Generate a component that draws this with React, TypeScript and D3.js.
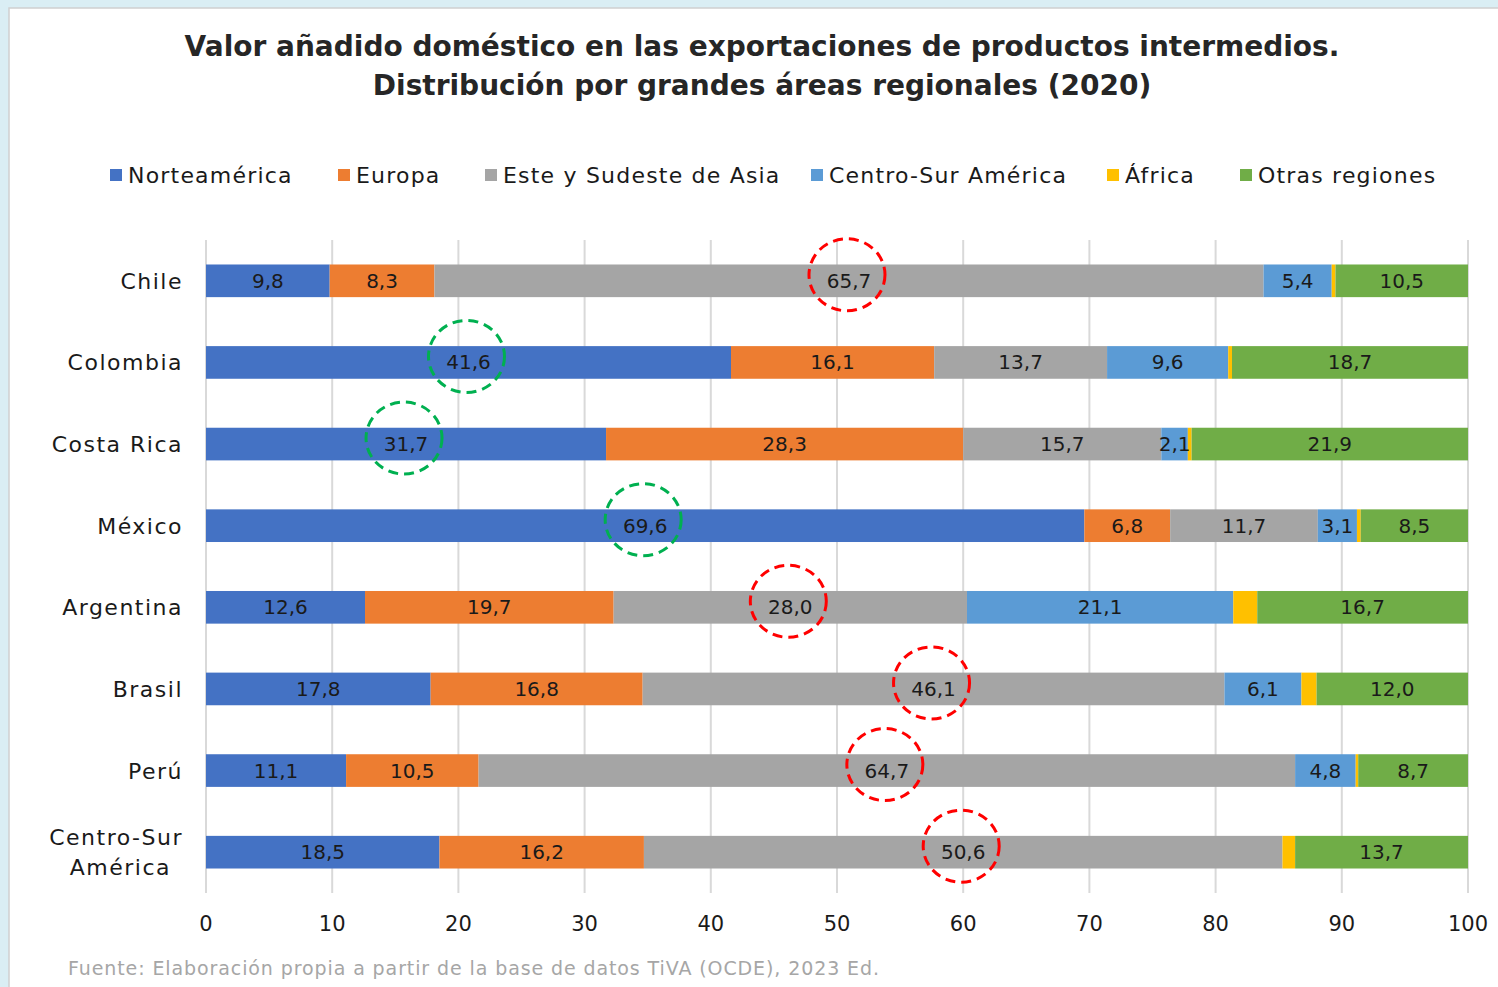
import React from "react";
import * as d3 from "d3";

const categories = ["Chile", "Colombia", "Costa Rica", "México", "Argentina", "Brasil", "Perú", "Centro-Sur América"];
const seriesNames = ["Norteamérica", "Europa", "Este y Sudeste de Asia", "Centro-Sur América", "África", "Otras regiones"];
const colors = ["#4472C4", "#ED7D31", "#A5A5A5", "#5B9BD5", "#FFC000", "#70AD47"];

const norteamerica = [9.8, 41.6, 31.7, 69.6, 12.6, 17.8, 11.1, 18.5];
const europa = [8.3, 16.1, 28.3, 6.8, 19.7, 16.8, 10.5, 16.2];
const asia = [65.7, 13.7, 15.7, 11.7, 28.0, 46.1, 64.7, 50.6];
const centroSur = [5.4, 9.6, 2.1, 3.1, 21.1, 6.1, 4.8, 0];
const africa = [0.3, 0.3, 0.3, 0.3, 1.9, 1.2, 0.2, 1.0];
const otras = [10.5, 18.7, 21.9, 8.5, 16.7, 12.0, 8.7, 13.7];
const xTicks = [0, 10, 20, 30, 40, 50, 60, 70, 80, 90, 100];

// dashed circles drawn on the chart: [category index, series index, colour]
const highlights: [number, number, string][] = [
  [0, 2, "#FF0000"],
  [1, 0, "#00B050"],
  [2, 0, "#00B050"],
  [3, 0, "#00B050"],
  [4, 2, "#FF0000"],
  [5, 2, "#FF0000"],
  [6, 2, "#FF0000"],
  [7, 2, "#FF0000"],
];

const W = 1498;
const H = 987;
const font = "'DejaVu Sans', sans-serif";

export default function App() {
  const values = [norteamerica, europa, asia, centroSur, africa, otras];
  const rows = categories.map((c, i) => {
    const r: any = { cat: c };
    seriesNames.forEach((s, j) => (r[s] = values[j][i]));
    return r;
  });
  const stack = d3.stack<any>().keys(seriesNames)(rows);

  const x = d3.scaleLinear().domain([0, 100]).range([206, 1468]);
  const y = d3.scaleBand().domain(categories).range([240, 893]).paddingInner(0.6).paddingOuter(0.3);
  const fmt = (v: number) => d3.format(".1f")(v).replace(".", ",");

  const legendX = [110, 338, 485, 811, 1107, 1240];

  return (
    <div style={{ position: "absolute", left: 0, top: 0 }}>
      <svg width={W} height={H} style={{ display: "block", fontFamily: font }}>
        <rect x={0} y={0} width={W} height={H} fill="#DAEEF4" />
        <rect x={9} y={8} width={W} height={H} fill="#fff" stroke="#D0D0D0" strokeWidth={1.5} />

        <text x={762} y={56} textAnchor="middle" fontSize={28} fontWeight="bold" fill="#262626">
          Valor añadido doméstico en las exportaciones de productos intermedios.
        </text>
        <text x={762} y={95} textAnchor="middle" fontSize={28} fontWeight="bold" fill="#262626">
          Distribución por grandes áreas regionales (2020)
        </text>

        {seriesNames.map((s, i) => (
          <g key={s} transform={`translate(${legendX[i]},175)`}>
            <rect x={0} y={-6} width={12} height={12} fill={colors[i]} />
            <text x={18} y={8} fontSize={22} letterSpacing={1.2} fill="#1a1a1a">{s}</text>
          </g>
        ))}

        {xTicks.map((t) => (
          <g key={t}>
            <line x1={x(t)} x2={x(t)} y1={240} y2={893} stroke="#D9D9D9" strokeWidth={2} />
            <text x={x(t)} y={931} textAnchor="middle" fontSize={21} fill="#1a1a1a">{t}</text>
          </g>
        ))}

        {stack.map((layer, j) =>
          layer.map((d, i) => {
            const cat = categories[i];
            const x0 = x(d[0]);
            const w = x(d[1]) - x(d[0]);
            return (
              <rect key={`${j}-${i}`} x={x0} y={y(cat)!} width={Math.max(0, w)} height={y.bandwidth()} fill={colors[j]} />
            );
          })
        )}

        {stack.map((layer, j) =>
          layer.map((d, i) => {
            const v = values[j][i];
            if (j === 4 || v < 2) return null;
            return (
              <text key={`l${j}-${i}`} x={x((d[0] + d[1]) / 2)} y={y(categories[i])! + y.bandwidth() / 2 + 7}
                textAnchor="middle" fontSize={20} fill="#1a1a1a">{fmt(v)}</text>
            );
          })
        )}

        {highlights.map(([ci, si, col]) => {
          const d = stack[si][ci];
          return (
            <ellipse key={`h${ci}`} cx={x((d[0] + d[1]) / 2) - 2} cy={y(categories[ci])! + y.bandwidth() / 2 - 6}
              rx={38} ry={36} fill="none" stroke={col} strokeWidth={3} strokeDasharray="10 6" />
          );
        })}

        {categories.map((c) => {
          const cy = y(c)! + y.bandwidth() / 2;
          if (c === "Centro-Sur América") {
            return (
              <text key={c} textAnchor="end" fontSize={22} letterSpacing={1.5} fill="#1a1a1a">
                <tspan x={183} y={cy - 7}>Centro-Sur</tspan>
                <tspan x={171} y={cy + 23}>América</tspan>
              </text>
            );
          }
          return (
            <text key={c} x={183} y={cy + 8} textAnchor="end" fontSize={22} letterSpacing={1.5} fill="#1a1a1a">{c}</text>
          );
        })}

        <text x={68} y={975} fontSize={19} letterSpacing={0.9} fill="#A6A6A6">
          Fuente: Elaboración propia a partir de la base de datos TiVA (OCDE), 2023 Ed.
        </text>
      </svg>
    </div>
  );
}
